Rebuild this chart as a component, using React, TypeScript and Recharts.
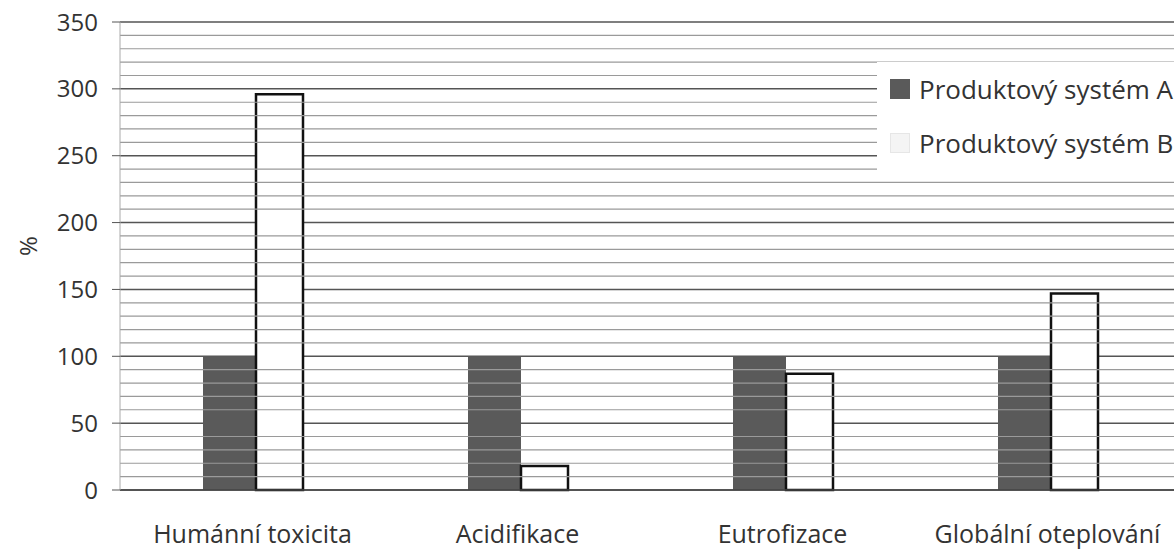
import React from 'react'
import { BarChart, Bar, XAxis, YAxis, CartesianGrid, ReferenceLine, Legend } from 'recharts'

const categories = ['Humánní toxicita', 'Acidifikace', 'Eutrofizace', 'Globální oteplování']
const systemA = [100, 100, 100, 100]
const systemB = [296, 18, 87, 147]
const yTicks = [0, 50, 100, 150, 200, 250, 300, 350]
const minorLines = [10, 20, 30, 40, 60, 70, 80, 90, 110, 120, 130, 140, 160, 170, 180, 190, 210, 220, 230, 240, 260, 270, 280, 290, 310, 320, 330, 340]

const data = categories.map((name, i) => ({ name, a: systemA[i], b: systemB[i] }))

const FONT = '"Open Sans", sans-serif'

const legendItems = [
  { label: 'Produktový systém A', fill: '#5a5a5a', stroke: '#5a5a5a' },
  { label: 'Produktový systém B', fill: '#f4f4f4', stroke: '#e6e6e6' },
]

// legend drawn as an overlay box so it does not shrink the plot area
const LegendBox = () => (
  <div style={{ background: '#fff', padding: '0 0 6px 13px', fontFamily: FONT }}>
    {legendItems.map((it) => (
      <div key={it.label} style={{ display: 'flex', alignItems: 'center', height: 54, fontSize: 26, color: '#333', whiteSpace: 'nowrap' }}>
        <span style={{ width: 18, height: 18, background: it.fill, border: `1px solid ${it.stroke}`, marginRight: 9 }} />
        {it.label}
      </div>
    ))}
  </div>
)

const App = () => (
  <div style={{ position: 'absolute', left: 0, top: 0, width: 1174, height: 549, overflow: 'hidden', background: '#fff' }}>
    <BarChart width={1185} height={549} data={data} margin={{ top: 22, right: 5, left: 0, bottom: 0 }}
      barCategoryGap="31%" barGap={0} style={{ fontFamily: FONT }}>
      <CartesianGrid vertical={false} stroke="#555" strokeWidth={1.5} />
      {minorLines.map((v) => (
        <ReferenceLine key={v} y={v} stroke="#9a9a9a" strokeWidth={1.2} />
      ))}
      <XAxis dataKey="name" height={59} axisLine={{ stroke: '#444', strokeWidth: 1.5 }} tickLine={false}
        tickMargin={29} tick={{ fontSize: 25, fill: '#333' }} interval={0} />
      <YAxis width={120} domain={[0, 350]} ticks={yTicks} axisLine={{ stroke: '#aaa' }}
        tickLine={{ stroke: '#555' }} tickSize={8} tickMargin={14} tick={{ fontSize: 24, fill: '#333' }}
        label={{ value: '%', angle: -90, position: 'insideLeft', offset: 28, style: { fontSize: 24, fill: '#333' } }} />
      <Legend layout="vertical" verticalAlign="middle" align="center" content={LegendBox}
        wrapperStyle={{ top: 62, left: 877, width: 310 }} />
      <Bar dataKey="a" name="Produktový systém A" fill="#5a5a5a" barSize={53} isAnimationActive={false} />
      <Bar dataKey="b" name="Produktový systém B" fill="#fff" stroke="#111" strokeWidth={2.5} barSize={47} isAnimationActive={false} />
    </BarChart>
  </div>
)

export default App
